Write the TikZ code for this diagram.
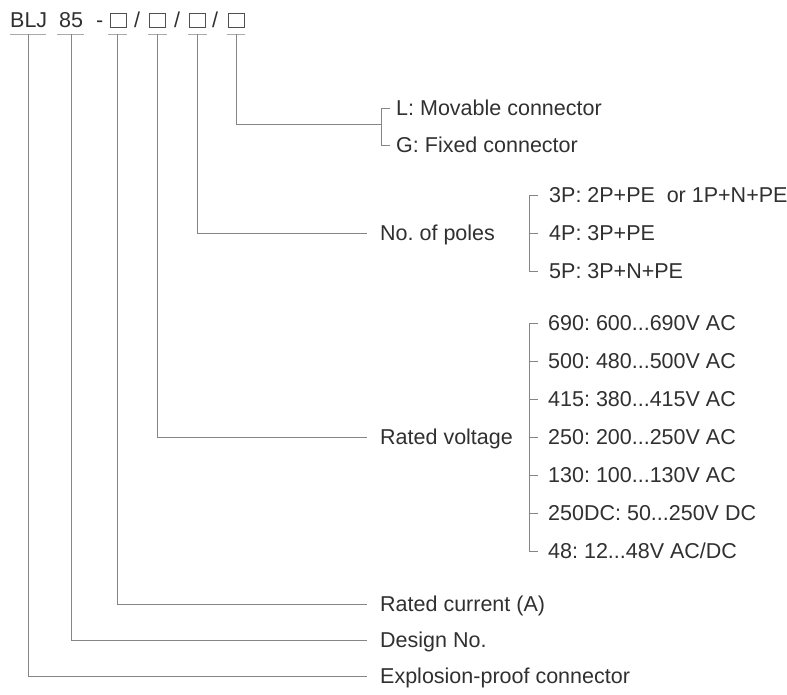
\documentclass[tikz,border=0pt]{standalone}
\usepackage{fontspec}
\setmainfont{Liberation Sans}
\frenchspacing
\definecolor{txt}{HTML}{303030}
\definecolor{ln}{HTML}{858585}
\begin{document}
\begin{tikzpicture}[x=1pt,y=-1pt,
  lbl/.style={anchor=west,inner sep=0pt,text height=15.5pt,text depth=0pt,text=txt,font=\fontsize{21.5}{25}\selectfont},
  ttl/.style={anchor=base west,inner sep=0pt,text=txt,font=\fontsize{21.5}{25}\selectfont},
  sq/.style={draw=txt!85,line width=0.9pt,minimum width=16pt,minimum height=14pt,inner sep=0pt,anchor=south west},
  conn/.style={draw=ln,line width=0.9pt},
  uline/.style={draw=ln!70,line width=0.9pt}]
\useasboundingbox (0,0) rectangle (787,694);
% title
\node[ttl] (blj) at (10,27.5) {BLJ};
\node[ttl] (n85) at (59,27.5) {85};
\node[ttl] (dash) at (96,27.5) {-};
\node[sq] (b1) at (109.5,27.5) {};
\node[ttl] (s1) at (134,27.5) {/};
\node[sq] (b2) at (148.5,27.5) {};
\node[ttl] (s2) at (174,27.5) {/};
\node[sq] (b3) at (188.5,27.5) {};
\node[ttl] (s3) at (212,27.5) {/};
\node[sq] (b4) at (227.5,27.5) {};
% underline coordinates
\coordinate (v1) at (28,34);
\coordinate (v2) at (71,34);
\coordinate (v3) at (117,34);
\coordinate (v4) at (157,34);
\coordinate (v5) at (197,34);
\coordinate (v6) at (236,34);
\draw[uline] (10,34) -- (46,34);
\draw[uline] (57,34) -- (84,34);
\draw[uline] (108,34) -- (127,34);
\draw[uline] (148,34) -- (167,34);
\draw[uline] (188,34) -- (207,34);
\draw[uline] (227,34) -- (245,34);
% labels
\node[lbl] (mov) at (396,108) {L: Movable connector};
\node[lbl] (fix) at (396,145) {G: Fixed connector};
\node[lbl] (poles) at (380,233) {No. of poles};
\node[lbl] (p3) at (549,195) {3P: 2P+PE\hspace{0.55em}or 1P+N+PE};
\node[lbl] (p4) at (549,233) {4P: 3P+PE};
\node[lbl] (p5) at (549,271) {5P: 3P+N+PE};
\node[lbl] (volt) at (380,437) {Rated voltage};
\node[lbl] (u1) at (548,323) {690: 600...690V AC};
\node[lbl] (u2) at (548,361) {500: 480...500V AC};
\node[lbl] (u3) at (548,399) {415: 380...415V AC};
\node[lbl] (u4) at (548,437) {250: 200...250V AC};
\node[lbl] (u5) at (548,475) {130: 100...130V AC};
\node[lbl] (u6) at (548,513) {250DC: 50...250V DC};
\node[lbl] (u7) at (548,551) {48: 12...48V AC/DC};
\node[lbl] (cur) at (380,604) {Rated current (A)};
\node[lbl] (des) at (380,640) {Design No.};
\node[lbl] (exp) at (380,676) {Explosion-proof connector};
% main connectors
\draw[conn] (v1) |- ([xshift=-13pt]exp.west);
\draw[conn] (v2) |- ([xshift=-13pt]des.west);
\draw[conn] (v3) |- ([xshift=-13pt]cur.west);
\draw[conn] (v4) |- ([xshift=-13pt]volt.west);
\draw[conn] (v5) |- ([xshift=-13pt]poles.west);
\coordinate (lgm) at (381,124);
\draw[conn] (v6) |- (lgm);
% brackets
\draw[conn] ([xshift=-6pt]mov.west) -- ([xshift=-15pt]mov.west) -- ([xshift=-15pt]fix.west) -- ([xshift=-6pt]fix.west);
\draw[conn] ([xshift=-11pt]p3.west) -- ([xshift=-20pt]p3.west) -- ([xshift=-20pt]p5.west) -- ([xshift=-11pt]p5.west);
\draw[conn] ([xshift=-20pt]p4.west) -- ([xshift=-11pt]p4.west);
\draw[conn] ([xshift=-10pt]u1.west) -- ([xshift=-19pt]u1.west) -- ([xshift=-19pt]u7.west) -- ([xshift=-10pt]u7.west);
\foreach \n in {u2,u3,u4,u5,u6}
  \draw[conn] ([xshift=-19pt]\n.west) -- ([xshift=-10pt]\n.west);
\end{tikzpicture}
\end{document}
